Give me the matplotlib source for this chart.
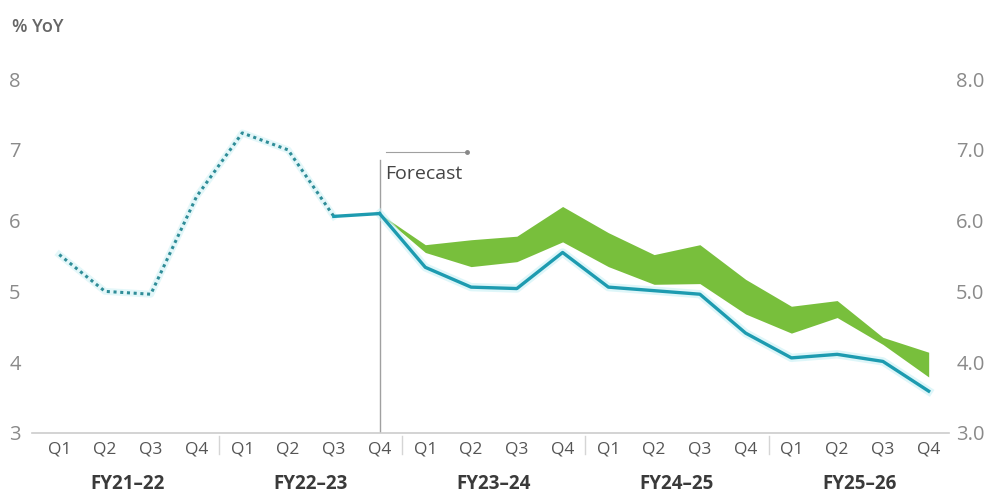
import numpy as np
import matplotlib.pyplot as plt
from matplotlib.transforms import blended_transform_factory

plt.rcParams['font.family'] = ['Open Sans', 'DejaVu Sans']

quarters = ['Q1', 'Q2', 'Q3', 'Q4'] * 5
fiscal_years = ['FY21\u201322', 'FY22\u201323', 'FY23\u201324', 'FY24\u201325', 'FY25\u201326']

# historical growth, Q1 FY21-22 .. Q4 FY22-23
actual = [5.52, 5.0, 4.96, 6.34, 7.24, 7.0, 6.06, 6.1]
# baseline forecast, Q4 FY22-23 .. Q4 FY25-26
baseline = [6.1, 5.34, 5.06, 5.04, 5.55, 5.06, 5.01, 4.96, 4.41, 4.06, 4.11, 4.01, 3.59]
# forecast range (green band)
band_low = [6.1, 5.55, 5.35, 5.42, 5.7, 5.35, 5.1, 5.11, 4.68, 4.41, 4.63, 4.25, 3.79]
band_high = [6.1, 5.66, 5.73, 5.78, 6.2, 5.83, 5.52, 5.66, 5.17, 4.79, 4.87, 4.35, 4.14]

x_all = np.arange(len(quarters))
x_act = x_all[:len(actual)]
x_fc = x_all[len(actual) - 1:]

teal = '#1d9bb0'
green = '#78bf3c'

fig = plt.figure(figsize=(9.94, 5.01), dpi=100)
ax = fig.add_axes([0.032, 0.136, 0.923, 0.706])

ax.fill_between(x_fc, band_low, band_high, color=green, linewidth=0, zorder=2)

# soft glow under the lines
ax.plot(x_act[:7], actual[:7], color='#d2f3f6', lw=5, alpha=0.6, zorder=3)
ax.plot(x_fc, baseline, color='#c8f1f5', lw=6, alpha=0.6, zorder=3)

ax.plot(x_act[:7], actual[:7], color='#2f8d98', lw=2.2, ls=(0, (1, 1.2)), zorder=4)
ax.plot(x_act[6:], actual[6:], color=teal, lw=2.4, zorder=4)
ax.plot(x_fc, baseline, color=teal, lw=2.4, zorder=4)

# forecast marker
ax.plot([7, 7], [3, 6.86], color='#a0a0a0', lw=1, zorder=1)
ax.plot([7.15, 8.9], [6.97, 6.97], color='#a0a0a0', lw=0.8, zorder=1)
ax.plot([8.9], [6.97], marker='o', ms=2.5, color='#888888', zorder=1)
ax.text(7.12, 6.66, 'Forecast', fontsize=14, color='#444444', va='center', ha='left')

ax.set_xlim(-0.6, 19.45)
ax.set_ylim(3, 8)
ax.set_yticks(range(3, 9))
ax.set_yticklabels([str(v) for v in range(3, 9)])
ax.set_xticks(x_all)
ax.set_xticklabels(quarters, fontsize=12.5, color='#555555')
ax.tick_params(axis='x', length=0, pad=6)
ax.tick_params(axis='y', length=0, pad=8, labelsize=14.5, labelcolor='#8a8a8a')
for s in ['top', 'left', 'right']:
    ax.spines[s].set_visible(False)
ax.spines['bottom'].set_color('#cccccc')
ax.spines['bottom'].set_linewidth(1.2)

ax2 = ax.twinx()
ax2.set_ylim(3, 8)
ax2.set_yticks(range(3, 9))
ax2.set_yticklabels([f'{v:.1f}' for v in range(3, 9)])
ax2.tick_params(axis='y', length=0, pad=5, labelsize=14.5, labelcolor='#8a8a8a')
for s in ['top', 'left', 'right', 'bottom']:
    ax2.spines[s].set_visible(False)

trans = blended_transform_factory(ax.transData, ax.transAxes)
for i, fy in enumerate(fiscal_years):
    ax.text(4 * i + 1.5, -0.145, fy, transform=trans, ha='center', va='center',
            fontsize=13.5, fontweight='bold', color='#3a3a3a', fontstretch='condensed')
for xs in [3.5, 7.5, 11.5, 15.5]:
    ax.plot([xs, xs], [-0.01, -0.06], transform=trans, color='#d5d5d5', lw=1,
            clip_on=False)

fig.text(0.012, 0.947, '% YoY', fontsize=13, fontweight='semibold', color='#666666',
         va='center', ha='left')

fig.savefig('out.png', dpi=100)
